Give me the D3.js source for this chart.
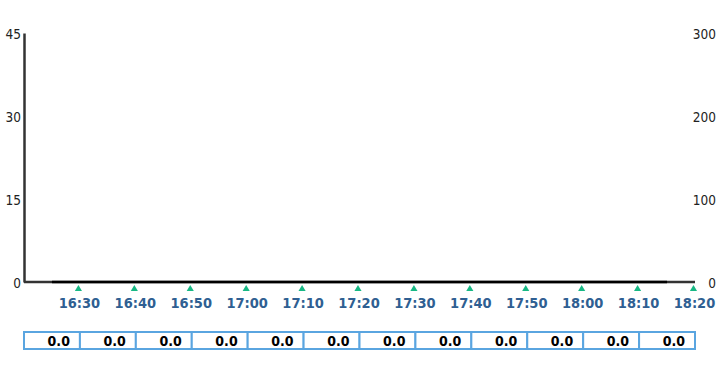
<!DOCTYPE html>
<html>
<head>
<meta charset="utf-8">
<script src="https://cdn.jsdelivr.net/npm/d3@7"></script>
<style>
  body { margin: 0; background: #fff; }
  svg { display: block; }
</style>
</head>
<body>
<svg id="chart" width="720" height="370"></svg>
<script>
const svg = d3.select("#chart");

// data
const pointTimes = ["16:25", "16:35", "16:45", "16:55", "17:05", "17:15", "17:25", "17:35", "17:45", "17:55", "18:05", "18:15"];
const pointValues = [0, 0, 0, 0, 0, 0, 0, 0, 0, 0, 0, 0];
const tickTimes = ["16:30", "16:40", "16:50", "17:00", "17:10", "17:20", "17:30", "17:40", "17:50", "18:00", "18:10", "18:20"];
const tableValues = [0, 0, 0, 0, 0, 0, 0, 0, 0, 0, 0, 0];
const leftTicks = [0, 15, 30, 45];
const rightTicks = [0, 100, 200, 300];

const parse = d3.timeParse("%H:%M");

const plotLeft = 24, plotRight = 695, plotTop = 33, plotBottom = 282;

const x = d3.scaleTime()
  .domain([parse("16:20"), parse("18:20")])
  .range([plotLeft, plotRight]);
const y = d3.scaleLinear().domain([0, 45]).range([plotBottom, plotTop]);
const y2 = d3.scaleLinear().domain([0, 300]).range([plotBottom, plotTop]);

const axisFont = '"DejaVu Sans Condensed", "Liberation Sans", sans-serif';

// left axis
const yAxis = d3.axisLeft(y).tickValues(leftTicks).tickSize(0).tickPadding(3);
const gy = svg.append('g').attr('transform', `translate(${plotLeft},0)`).call(yAxis);
gy.select('.domain').attr('stroke', '#333').attr('stroke-width', 2.5);
gy.selectAll('text')
  .attr('font-family', axisFont)
  .attr('font-size', 13.5).attr('fill', '#222')
  .attr('dy', '0.4em');

// right axis (labels only)
const yAxis2 = d3.axisRight(y2).tickValues(rightTicks).tickSize(0).tickPadding(0);
const gy2 = svg.append('g').attr('transform', `translate(${plotRight + 21},0)`).call(yAxis2);
gy2.select('.domain').remove();
gy2.selectAll('text')
  .attr('text-anchor', 'end')
  .attr('font-family', axisFont)
  .attr('font-size', 13.5).attr('fill', '#222')
  .attr('dy', '0.4em');

// bottom baseline
svg.append('line')
  .attr('x1', plotLeft).attr('x2', plotRight)
  .attr('y1', y(0)).attr('y2', y(0))
  .attr('stroke', '#333').attr('stroke-width', 2.5);

// series line
const line = d3.line()
  .x(d => x(parse(d.t)))
  .y(d => y(d.v));
const series = pointTimes.map((t, i) => ({ t: t, v: pointValues[i] }));
svg.append('path')
  .datum(series)
  .attr('d', line)
  .attr('fill', 'none')
  .attr('stroke', '#000')
  .attr('stroke-width', 2.5);

// tick markers
const tri = d3.symbol().type(d3.symbolTriangle).size(22);
svg.selectAll('.tick-mark')
  .data(tickTimes)
  .join('path')
  .attr('class', 'tick-mark')
  .attr('d', tri)
  .attr('transform', d => `translate(${x(parse(d)) - 1.5},289)`)
  .attr('fill', '#17b884');

// tick labels
svg.selectAll('.tick-label')
  .data(tickTimes)
  .join('text')
  .attr('class', 'tick-label')
  .attr('x', d => x(parse(d)) - 0.5)
  .attr('y', 308)
  .attr('text-anchor', 'middle')
  .attr('font-family', axisFont)
  .attr('font-weight', 'bold')
  .attr('font-size', 14.5)
  .attr('fill', '#2f5f92')
  .text(d => d);

// value table
const cellTop = 332, cellH = 17;
const cells = svg.selectAll('.cell')
  .data(tickTimes)
  .join('g')
  .attr('class', 'cell');
cells.append('rect')
  .attr('x', d => x(d3.timeMinute.offset(parse(d), -10)))
  .attr('y', cellTop)
  .attr('width', d => x(parse(d)) - x(d3.timeMinute.offset(parse(d), -10)))
  .attr('height', cellH)
  .attr('fill', '#fff')
  .attr('stroke', '#5aa5e0')
  .attr('stroke-width', 2);
cells.append('text')
  .attr('x', d => x(parse(d)) - 10)
  .attr('y', cellTop + 14)
  .attr('text-anchor', 'end')
  .attr('font-family', axisFont)
  .attr('font-weight', 'bold')
  .attr('font-size', 14)
  .attr('fill', '#000')
  .text((d, i) => tableValues[i].toFixed(1));
</script>
</body>
</html>
